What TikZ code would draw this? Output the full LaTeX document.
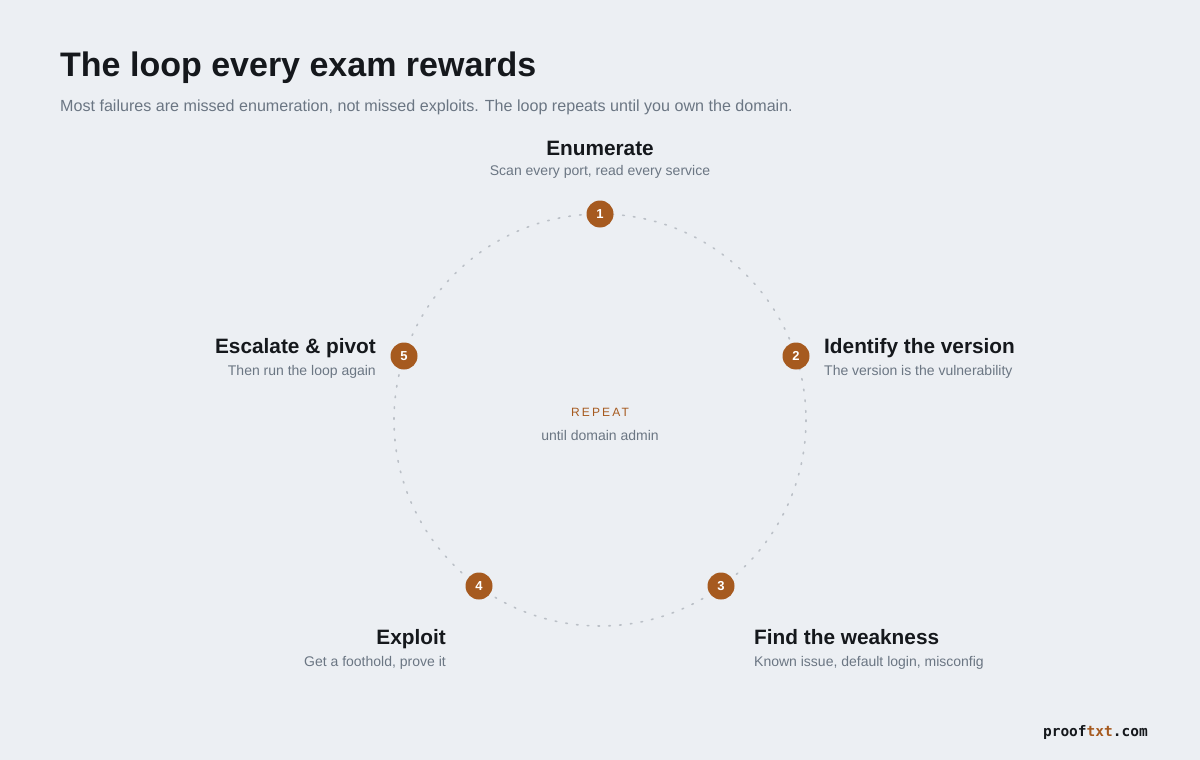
\documentclass[tikz,border=0pt]{standalone}
\usepackage{fontspec}
\usetikzlibrary{calc}
\setmainfont{Liberation Sans}
\newfontfamily\monofont{DejaVu Sans Mono}
\newfontfamily\spacedfont[LetterSpace=18]{Liberation Sans}
\definecolor{bg}{HTML}{ECEFF3}
\definecolor{ink}{HTML}{15181C}
\definecolor{mute}{HTML}{6B7683}
\definecolor{rust}{HTML}{A65A1F}
\definecolor{dotc}{HTML}{BBC0C7}
\begin{document}
\begin{tikzpicture}[x=1pt,y=-1pt,
  steptitle/.style={font=\fontsize{20.8}{24}\selectfont\bfseries, text=ink, inner sep=0pt},
  stepsub/.style={font=\fontsize{14}{16}\selectfont, text=mute, inner sep=0pt},
  badge/.style={circle, fill=rust, minimum size=27pt, inner sep=0pt, text=white, font=\fontsize{13}{15}\selectfont\bfseries}]
\fill[bg] (0,0) rectangle (1200,760);
\useasboundingbox (0,0) rectangle (1200,760);
\node[anchor=base west, inner sep=0pt, text=ink, font=\fontsize{34}{40}\selectfont\bfseries] (title) at (60,77) {The loop every exam rewards};
\node[anchor=base west, inner sep=0pt, text=mute, font=\fontsize{16.1}{19}\selectfont] (subtitle) at (60,111) {Most failures are missed enumeration, not missed exploits. The loop repeats until you own the domain.};
\coordinate (c) at (600,420);
\draw[dotc, line width=1.6pt, line cap=round, dash pattern=on 1.6pt off 9.2pt] (c) circle[radius=206];
\node[badge] (b1) at ($(c)+(0,-206)$) {1};
\node[badge] (b2) at (796,356) {2};
\node[badge] (b3) at (721,586) {3};
\node[badge] (b4) at (479,586) {4};
\node[badge] (b5) at (404,356) {5};
% labels
\node[steptitle, anchor=base] (t1) at (600,155) {Enumerate};
\node[stepsub, anchor=base] (s1) at (600,175) {Scan every port, read every service};
\node[steptitle, anchor=base west] (t2) at (824,353) {Identify the version};
\node[stepsub, anchor=base west] (s2) at (824,375) {The version is the vulnerability};
\node[steptitle, anchor=base west] (t3) at (754,644) {Find the weakness};
\node[stepsub, anchor=base west] (s3) at (754,666) {Known issue, default login, misconfig};
\node[steptitle, anchor=base east] (t4) at (446,644) {Exploit};
\node[stepsub, anchor=base east] (s4) at (446,666) {Get a foothold, prove it};
\node[steptitle, anchor=base east] (t5) at (376,353) {Escalate \& pivot};
\node[stepsub, anchor=base east] (s5) at (376,375) {Then run the loop again};
\node[anchor=base, inner sep=0pt, text=rust, font=\spacedfont\fontsize{12}{14}\selectfont] (rep) at (600,416) {REPEAT};
\node[stepsub, anchor=base] (until) at (600,440) {until domain admin};
\node[anchor=base east, inner sep=0pt, font=\monofont\fontsize{14.5}{18}\selectfont\bfseries] (brand) at (1148,736) {\textcolor{ink}{proof}\textcolor{rust}{txt}\textcolor{ink}{.com}};
\end{tikzpicture}
\end{document}
